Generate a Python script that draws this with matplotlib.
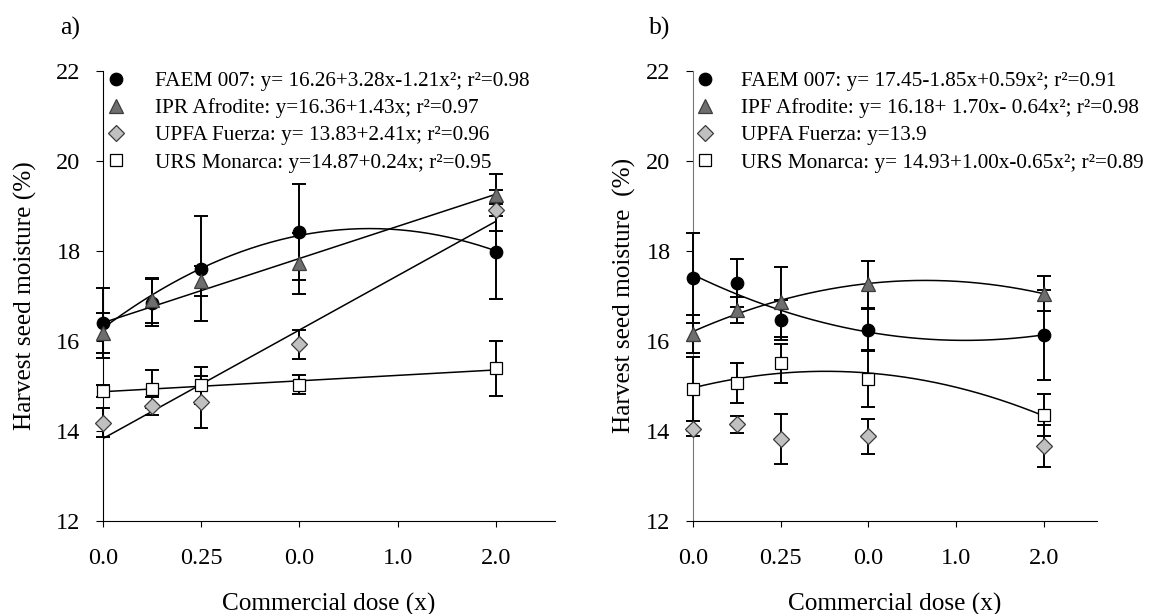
import numpy as np
import matplotlib
matplotlib.use('Agg')
import matplotlib.pyplot as plt
from matplotlib.lines import Line2D

plt.rcParams['font.family'] = ['Liberation Serif', 'DejaVu Serif']

# dose positions and (odd) tick labels as printed in the original
dose = [0.0, 0.125, 0.25, 0.5, 1.0]
tick_pos = [0.0, 0.25, 0.5, 0.75, 1.0]
tick_labels = ['0.0', '0.25', '0.0', '1.0', '2.0']

# panel a) means and standard deviations
a_faem = [16.39, 16.85, 17.60, 18.42, 17.98]
a_faem_sd = [0.78, 0.53, 1.17, 1.06, 1.05]
a_ipr = [16.17, 16.90, 17.33, 17.72, 19.24]
a_ipr_sd = [0.45, 0.50, 0.33, 0.68, 0.46]
a_upfa = [14.18, 14.55, 14.64, 15.92, 18.90]
a_upfa_sd = [0.32, 0.20, 0.57, 0.33, 0.45]
a_urs = [14.89, 14.94, 15.01, 15.03, 15.39]
a_urs_sd = [0.14, 0.42, 0.41, 0.21, 0.61]
a_degree = [2, 1, 1, 1]
a_labels = ['FAEM 007: y= 16.26+3.28x-1.21x²; r²=0.98',
            'IPR Afrodite: y=16.36+1.43x; r²=0.97',
            'UPFA Fuerza: y= 13.83+2.41x; r²=0.96',
            'URS Monarca: y=14.87+0.24x; r²=0.95']

# panel b)
b_faem = [17.39, 17.29, 16.46, 16.25, 16.13]
b_faem_sd = [1.00, 0.53, 0.45, 0.46, 1.00]
b_ipf = [16.16, 16.68, 16.87, 17.26, 17.05]
b_ipf_sd = [0.42, 0.29, 0.78, 0.52, 0.38]
b_upfa = [14.05, 14.15, 13.82, 13.88, 13.66]
b_upfa_sd = [0.17, 0.19, 0.55, 0.39, 0.47]
b_urs = [14.93, 15.07, 15.50, 15.16, 14.35]
b_urs_sd = [0.72, 0.44, 0.43, 0.62, 0.47]
b_degree = [2, 2, None, 2]
b_labels = ['FAEM 007: y= 17.45-1.85x+0.59x²; r²=0.91',
            'IPF Afrodite: y= 16.18+ 1.70x- 0.64x²; r²=0.98',
            'UPFA Fuerza: y=13.9',
            'URS Monarca: y= 14.93+1.00x-0.65x²; r²=0.89']

styles = [dict(marker='o', ms=9, mfc='black', mec='black'),
          dict(marker='^', ms=10, mfc='#6e6e6e', mec='#3c3c3c'),
          dict(marker='D', ms=8, mfc='#c0c0c0', mec='#3c3c3c'),
          dict(marker='s', ms=8.5, mfc='white', mec='black')]


def draw_panel(ax, means, sds, degrees, labels, letter, letter_x, ylabel,
               ylabelpad, spine_color, textpad):
    xfit = np.linspace(0, 1.0, 200)
    for m, sd, deg in zip(means, sds, degrees):
        if deg is not None:
            coef = np.polyfit(dose, m, deg)
            ax.plot(xfit, np.polyval(coef, xfit), color='black', lw=1.1, zorder=2)
    for m, sd in zip(means, sds):
        ax.errorbar(dose, m, yerr=sd, fmt='none', ecolor='black', elinewidth=1.4,
                    capsize=5, capthick=1.4, zorder=3, clip_on=False)
    handles = []
    for m, st in zip(means, styles):
        ax.plot(dose, m, ls='none', mew=0.9, zorder=4, clip_on=False, **st)
        handles.append(Line2D([], [], ls='none', mew=0.9, **st))

    ax.legend(handles, labels, loc='upper left', bbox_to_anchor=(0.01, 0.999),
              frameon=False, fontsize=15.3, handlelength=0.8, handletextpad=textpad,
              labelspacing=0.345, borderpad=0, borderaxespad=0)

    ax.set_xlim(0, 1.15)
    ax.set_ylim(12, 22)
    ax.set_xticks(tick_pos)
    ax.set_xticklabels(tick_labels)
    ax.set_yticks([12, 14, 16, 18, 20, 22])
    ax.tick_params(axis='both', direction='out', labelsize=17.5)
    ax.tick_params(axis='y', length=5, pad=11)
    ax.tick_params(axis='x', length=4, pad=15.8)
    ax.spines['top'].set_visible(False)
    ax.spines['right'].set_visible(False)
    ax.spines['left'].set_color(spine_color)
    ax.set_xlabel('Commercial dose (x)', fontsize=18.2, labelpad=17)
    ax.set_ylabel(ylabel, fontsize=18.2, labelpad=ylabelpad)
    fig.text(letter_x, 0.953, letter, fontsize=18.5, ha='right', va='center')


fig = plt.figure(figsize=(11.65, 6.14), dpi=100)
ax1 = fig.add_axes([0.0882, 0.1515, 0.3882, 0.7334])
ax2 = fig.add_axes([0.5946, 0.1515, 0.3468, 0.7334])

draw_panel(ax1, [a_faem, a_ipr, a_upfa, a_urs],
           [a_faem_sd, a_ipr_sd, a_upfa_sd, a_urs_sd],
           a_degree, a_labels, 'a)', 0.0687, 'Harvest seed moisture (%)', 13.5,
           'black', 1.43)
draw_panel(ax2, [b_faem, b_ipf, b_upfa, b_urs],
           [b_faem_sd, b_ipf_sd, b_upfa_sd, b_urs_sd],
           b_degree, b_labels, 'b)', 0.575, 'Harvest seed moisture  (%)', 7.5,
           '#777777', 1.3)

fig.savefig('out.png', dpi=100)
